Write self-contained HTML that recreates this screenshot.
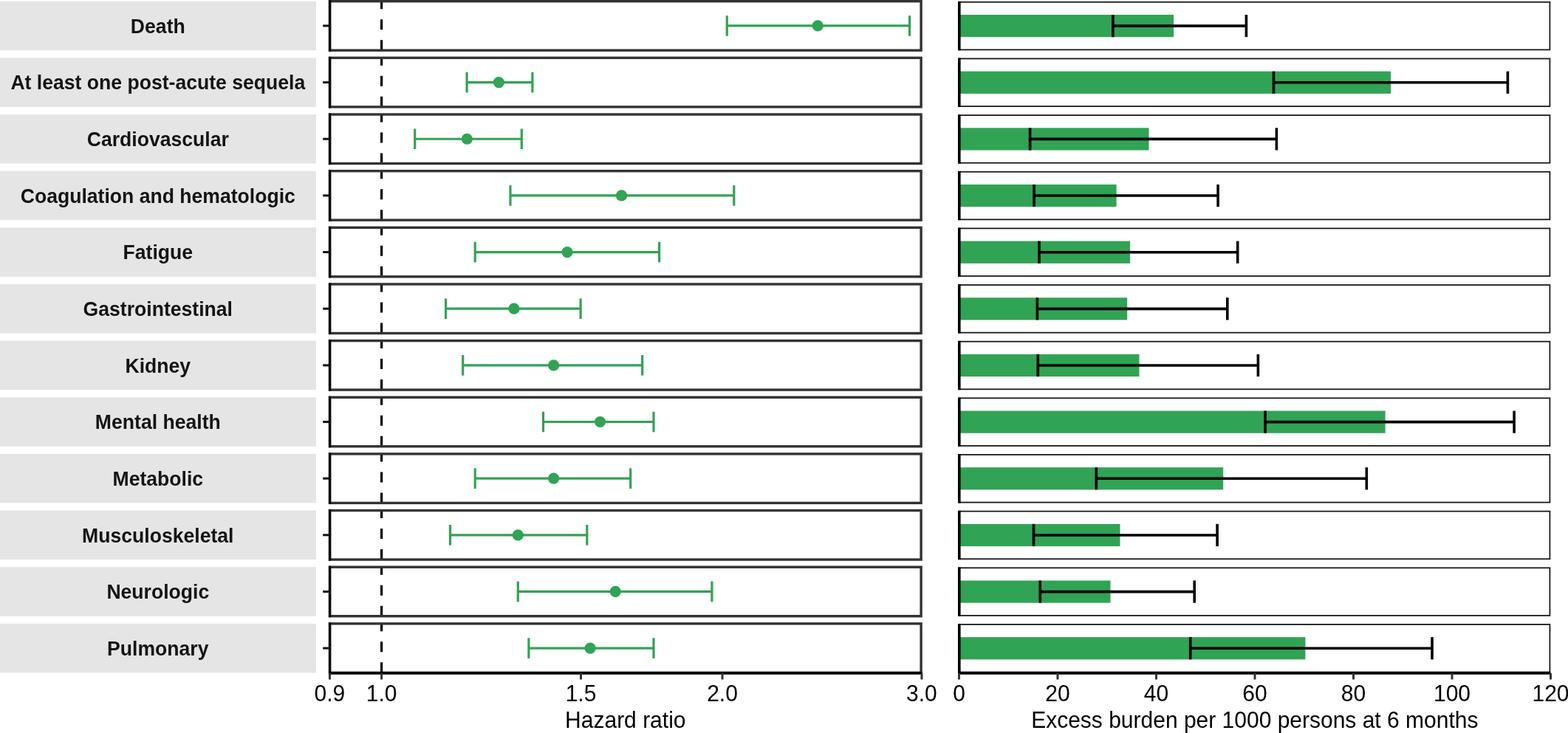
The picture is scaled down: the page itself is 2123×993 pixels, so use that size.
<!DOCTYPE html><html><head><meta charset="utf-8"><title>Hazard ratio and excess burden</title><style>html,body{margin:0;padding:0;background:#fff;}svg{display:block;}text{font-family:"Liberation Sans",Arial,sans-serif;}</style></head><body><svg width="2123" height="993" viewBox="0 0 2123 993"><rect x="0" y="0" width="2123" height="993" fill="#fff"/><rect x="0" y="1.70" width="428" height="66.50" fill="#e5e5e5"/><text transform="translate(213.8,44.75) scale(1,1.045)" text-anchor="middle" font-size="26.6" font-weight="bold" fill="#141414">Death</text><line x1="437.2" y1="34.95" x2="446" y2="34.95" stroke="#111" stroke-width="3"/><line x1="516.6" y1="68.20" x2="516.6" y2="1.70" stroke="#000" stroke-width="3.2" stroke-dasharray="14 14"/><g stroke="#31a354" stroke-width="3.2"><line x1="984.3" y1="34.95" x2="1231.6" y2="34.95"/><line x1="984.3" y1="21.15" x2="984.3" y2="48.75"/><line x1="1231.6" y1="21.15" x2="1231.6" y2="48.75"/></g><circle cx="1107.2" cy="34.95" r="7.6" fill="#31a354"/><rect x="446.5" y="1.70" width="800.6" height="66.50" fill="none" stroke="#333333" stroke-width="3.4"/><line x1="446.6" y1="0.20" x2="446.6" y2="69.70" stroke="#000" stroke-width="3.3"/><rect x="1300" y="20.00" width="289.10" height="30.2" fill="#31a354"/><g stroke="#000" stroke-width="3.6"><line x1="1506.9" y1="35.10" x2="1687.4" y2="35.10"/><line x1="1506.9" y1="20.00" x2="1506.9" y2="50.20"/><line x1="1687.4" y1="20.00" x2="1687.4" y2="50.20"/></g><rect x="1298.8" y="2.80" width="799.6" height="64.60" fill="none" stroke="#1a1a1a" stroke-width="1.8"/><line x1="1298.8" y1="1.90" x2="1298.8" y2="68.30" stroke="#000" stroke-width="3.6"/><rect x="0" y="78.35" width="428" height="66.50" fill="#e5e5e5"/><text transform="translate(213.8,121.40) scale(1,1.045)" text-anchor="middle" font-size="26.6" font-weight="bold" fill="#141414">At least one post-acute sequela</text><line x1="437.2" y1="111.60" x2="446" y2="111.60" stroke="#111" stroke-width="3"/><line x1="516.6" y1="144.85" x2="516.6" y2="78.35" stroke="#000" stroke-width="3.2" stroke-dasharray="14 14"/><g stroke="#31a354" stroke-width="3.2"><line x1="632.1" y1="111.60" x2="720.9" y2="111.60"/><line x1="632.1" y1="97.80" x2="632.1" y2="125.40"/><line x1="720.9" y1="97.80" x2="720.9" y2="125.40"/></g><circle cx="675.4" cy="111.60" r="7.6" fill="#31a354"/><rect x="446.5" y="78.35" width="800.6" height="66.50" fill="none" stroke="#333333" stroke-width="3.4"/><line x1="446.6" y1="76.85" x2="446.6" y2="146.35" stroke="#000" stroke-width="3.3"/><rect x="1300" y="96.65" width="583.10" height="30.2" fill="#31a354"/><g stroke="#000" stroke-width="3.6"><line x1="1724.5" y1="111.75" x2="2041.4" y2="111.75"/><line x1="1724.5" y1="96.65" x2="1724.5" y2="126.85"/><line x1="2041.4" y1="96.65" x2="2041.4" y2="126.85"/></g><rect x="1298.8" y="79.45" width="799.6" height="64.60" fill="none" stroke="#1a1a1a" stroke-width="1.8"/><line x1="1298.8" y1="78.55" x2="1298.8" y2="144.95" stroke="#000" stroke-width="3.6"/><rect x="0" y="155.00" width="428" height="66.50" fill="#e5e5e5"/><text transform="translate(213.8,198.05) scale(1,1.045)" text-anchor="middle" font-size="26.6" font-weight="bold" fill="#141414">Cardiovascular</text><line x1="437.2" y1="188.25" x2="446" y2="188.25" stroke="#111" stroke-width="3"/><line x1="516.6" y1="221.50" x2="516.6" y2="155.00" stroke="#000" stroke-width="3.2" stroke-dasharray="14 14"/><g stroke="#31a354" stroke-width="3.2"><line x1="561.7" y1="188.25" x2="706.3" y2="188.25"/><line x1="561.7" y1="174.45" x2="561.7" y2="202.05"/><line x1="706.3" y1="174.45" x2="706.3" y2="202.05"/></g><circle cx="632.3" cy="188.25" r="7.6" fill="#31a354"/><rect x="446.5" y="155.00" width="800.6" height="66.50" fill="none" stroke="#333333" stroke-width="3.4"/><line x1="446.6" y1="153.50" x2="446.6" y2="223.00" stroke="#000" stroke-width="3.3"/><rect x="1300" y="173.30" width="255.50" height="30.2" fill="#31a354"/><g stroke="#000" stroke-width="3.6"><line x1="1394.6" y1="188.40" x2="1728.4" y2="188.40"/><line x1="1394.6" y1="173.30" x2="1394.6" y2="203.50"/><line x1="1728.4" y1="173.30" x2="1728.4" y2="203.50"/></g><rect x="1298.8" y="156.10" width="799.6" height="64.60" fill="none" stroke="#1a1a1a" stroke-width="1.8"/><line x1="1298.8" y1="155.20" x2="1298.8" y2="221.60" stroke="#000" stroke-width="3.6"/><rect x="0" y="231.65" width="428" height="66.50" fill="#e5e5e5"/><text transform="translate(213.8,274.70) scale(1,1.045)" text-anchor="middle" font-size="26.6" font-weight="bold" fill="#141414">Coagulation and hematologic</text><line x1="437.2" y1="264.90" x2="446" y2="264.90" stroke="#111" stroke-width="3"/><line x1="516.6" y1="298.15" x2="516.6" y2="231.65" stroke="#000" stroke-width="3.2" stroke-dasharray="14 14"/><g stroke="#31a354" stroke-width="3.2"><line x1="691.0" y1="264.90" x2="993.8" y2="264.90"/><line x1="691.0" y1="251.10" x2="691.0" y2="278.70"/><line x1="993.8" y1="251.10" x2="993.8" y2="278.70"/></g><circle cx="841.5" cy="264.90" r="7.6" fill="#31a354"/><rect x="446.5" y="231.65" width="800.6" height="66.50" fill="none" stroke="#333333" stroke-width="3.4"/><line x1="446.6" y1="230.15" x2="446.6" y2="299.65" stroke="#000" stroke-width="3.3"/><rect x="1300" y="249.95" width="211.60" height="30.2" fill="#31a354"/><g stroke="#000" stroke-width="3.6"><line x1="1400.1" y1="265.05" x2="1649.1" y2="265.05"/><line x1="1400.1" y1="249.95" x2="1400.1" y2="280.15"/><line x1="1649.1" y1="249.95" x2="1649.1" y2="280.15"/></g><rect x="1298.8" y="232.75" width="799.6" height="64.60" fill="none" stroke="#1a1a1a" stroke-width="1.8"/><line x1="1298.8" y1="231.85" x2="1298.8" y2="298.25" stroke="#000" stroke-width="3.6"/><rect x="0" y="308.30" width="428" height="66.50" fill="#e5e5e5"/><text transform="translate(213.8,351.35) scale(1,1.045)" text-anchor="middle" font-size="26.6" font-weight="bold" fill="#141414">Fatigue</text><line x1="437.2" y1="341.55" x2="446" y2="341.55" stroke="#111" stroke-width="3"/><line x1="516.6" y1="374.80" x2="516.6" y2="308.30" stroke="#000" stroke-width="3.2" stroke-dasharray="14 14"/><g stroke="#31a354" stroke-width="3.2"><line x1="643.2" y1="341.55" x2="892.6" y2="341.55"/><line x1="643.2" y1="327.75" x2="643.2" y2="355.35"/><line x1="892.6" y1="327.75" x2="892.6" y2="355.35"/></g><circle cx="768.0" cy="341.55" r="7.6" fill="#31a354"/><rect x="446.5" y="308.30" width="800.6" height="66.50" fill="none" stroke="#333333" stroke-width="3.4"/><line x1="446.6" y1="306.80" x2="446.6" y2="376.30" stroke="#000" stroke-width="3.3"/><rect x="1300" y="326.60" width="230.10" height="30.2" fill="#31a354"/><g stroke="#000" stroke-width="3.6"><line x1="1407.0" y1="341.70" x2="1675.7" y2="341.70"/><line x1="1407.0" y1="326.60" x2="1407.0" y2="356.80"/><line x1="1675.7" y1="326.60" x2="1675.7" y2="356.80"/></g><rect x="1298.8" y="309.40" width="799.6" height="64.60" fill="none" stroke="#1a1a1a" stroke-width="1.8"/><line x1="1298.8" y1="308.50" x2="1298.8" y2="374.90" stroke="#000" stroke-width="3.6"/><rect x="0" y="384.95" width="428" height="66.50" fill="#e5e5e5"/><text transform="translate(213.8,428.00) scale(1,1.045)" text-anchor="middle" font-size="26.6" font-weight="bold" fill="#141414">Gastrointestinal</text><line x1="437.2" y1="418.20" x2="446" y2="418.20" stroke="#111" stroke-width="3"/><line x1="516.6" y1="451.45" x2="516.6" y2="384.95" stroke="#000" stroke-width="3.2" stroke-dasharray="14 14"/><g stroke="#31a354" stroke-width="3.2"><line x1="603.6" y1="418.20" x2="786.1" y2="418.20"/><line x1="603.6" y1="404.40" x2="603.6" y2="432.00"/><line x1="786.1" y1="404.40" x2="786.1" y2="432.00"/></g><circle cx="695.9" cy="418.20" r="7.6" fill="#31a354"/><rect x="446.5" y="384.95" width="800.6" height="66.50" fill="none" stroke="#333333" stroke-width="3.4"/><line x1="446.6" y1="383.45" x2="446.6" y2="452.95" stroke="#000" stroke-width="3.3"/><rect x="1300" y="403.25" width="226.20" height="30.2" fill="#31a354"/><g stroke="#000" stroke-width="3.6"><line x1="1404.4" y1="418.35" x2="1661.8" y2="418.35"/><line x1="1404.4" y1="403.25" x2="1404.4" y2="433.45"/><line x1="1661.8" y1="403.25" x2="1661.8" y2="433.45"/></g><rect x="1298.8" y="386.05" width="799.6" height="64.60" fill="none" stroke="#1a1a1a" stroke-width="1.8"/><line x1="1298.8" y1="385.15" x2="1298.8" y2="451.55" stroke="#000" stroke-width="3.6"/><rect x="0" y="461.60" width="428" height="66.50" fill="#e5e5e5"/><text transform="translate(213.8,504.65) scale(1,1.045)" text-anchor="middle" font-size="26.6" font-weight="bold" fill="#141414">Kidney</text><line x1="437.2" y1="494.85" x2="446" y2="494.85" stroke="#111" stroke-width="3"/><line x1="516.6" y1="528.10" x2="516.6" y2="461.60" stroke="#000" stroke-width="3.2" stroke-dasharray="14 14"/><g stroke="#31a354" stroke-width="3.2"><line x1="626.7" y1="494.85" x2="869.7" y2="494.85"/><line x1="626.7" y1="481.05" x2="626.7" y2="508.65"/><line x1="869.7" y1="481.05" x2="869.7" y2="508.65"/></g><circle cx="749.6" cy="494.85" r="7.6" fill="#31a354"/><rect x="446.5" y="461.60" width="800.6" height="66.50" fill="none" stroke="#333333" stroke-width="3.4"/><line x1="446.6" y1="460.10" x2="446.6" y2="529.60" stroke="#000" stroke-width="3.3"/><rect x="1300" y="479.90" width="242.50" height="30.2" fill="#31a354"/><g stroke="#000" stroke-width="3.6"><line x1="1405.3" y1="495.00" x2="1703.4" y2="495.00"/><line x1="1405.3" y1="479.90" x2="1405.3" y2="510.10"/><line x1="1703.4" y1="479.90" x2="1703.4" y2="510.10"/></g><rect x="1298.8" y="462.70" width="799.6" height="64.60" fill="none" stroke="#1a1a1a" stroke-width="1.8"/><line x1="1298.8" y1="461.80" x2="1298.8" y2="528.20" stroke="#000" stroke-width="3.6"/><rect x="0" y="538.25" width="428" height="66.50" fill="#e5e5e5"/><text transform="translate(213.8,581.30) scale(1,1.045)" text-anchor="middle" font-size="26.6" font-weight="bold" fill="#141414">Mental health</text><line x1="437.2" y1="571.50" x2="446" y2="571.50" stroke="#111" stroke-width="3"/><line x1="516.6" y1="604.75" x2="516.6" y2="538.25" stroke="#000" stroke-width="3.2" stroke-dasharray="14 14"/><g stroke="#31a354" stroke-width="3.2"><line x1="735.5" y1="571.50" x2="885.0" y2="571.50"/><line x1="735.5" y1="557.70" x2="735.5" y2="585.30"/><line x1="885.0" y1="557.70" x2="885.0" y2="585.30"/></g><circle cx="812.5" cy="571.50" r="7.6" fill="#31a354"/><rect x="446.5" y="538.25" width="800.6" height="66.50" fill="none" stroke="#333333" stroke-width="3.4"/><line x1="446.6" y1="536.75" x2="446.6" y2="606.25" stroke="#000" stroke-width="3.3"/><rect x="1300" y="556.55" width="575.60" height="30.2" fill="#31a354"/><g stroke="#000" stroke-width="3.6"><line x1="1713.1" y1="571.65" x2="2050.1" y2="571.65"/><line x1="1713.1" y1="556.55" x2="1713.1" y2="586.75"/><line x1="2050.1" y1="556.55" x2="2050.1" y2="586.75"/></g><rect x="1298.8" y="539.35" width="799.6" height="64.60" fill="none" stroke="#1a1a1a" stroke-width="1.8"/><line x1="1298.8" y1="538.45" x2="1298.8" y2="604.85" stroke="#000" stroke-width="3.6"/><rect x="0" y="614.90" width="428" height="66.50" fill="#e5e5e5"/><text transform="translate(213.8,657.95) scale(1,1.045)" text-anchor="middle" font-size="26.6" font-weight="bold" fill="#141414">Metabolic</text><line x1="437.2" y1="648.15" x2="446" y2="648.15" stroke="#111" stroke-width="3"/><line x1="516.6" y1="681.40" x2="516.6" y2="614.90" stroke="#000" stroke-width="3.2" stroke-dasharray="14 14"/><g stroke="#31a354" stroke-width="3.2"><line x1="643.2" y1="648.15" x2="853.7" y2="648.15"/><line x1="643.2" y1="634.35" x2="643.2" y2="661.95"/><line x1="853.7" y1="634.35" x2="853.7" y2="661.95"/></g><circle cx="749.6" cy="648.15" r="7.6" fill="#31a354"/><rect x="446.5" y="614.90" width="800.6" height="66.50" fill="none" stroke="#333333" stroke-width="3.4"/><line x1="446.6" y1="613.40" x2="446.6" y2="682.90" stroke="#000" stroke-width="3.3"/><rect x="1300" y="633.20" width="356.20" height="30.2" fill="#31a354"/><g stroke="#000" stroke-width="3.6"><line x1="1484.3" y1="648.30" x2="1850.3" y2="648.30"/><line x1="1484.3" y1="633.20" x2="1484.3" y2="663.40"/><line x1="1850.3" y1="633.20" x2="1850.3" y2="663.40"/></g><rect x="1298.8" y="616.00" width="799.6" height="64.60" fill="none" stroke="#1a1a1a" stroke-width="1.8"/><line x1="1298.8" y1="615.10" x2="1298.8" y2="681.50" stroke="#000" stroke-width="3.6"/><rect x="0" y="691.55" width="428" height="66.50" fill="#e5e5e5"/><text transform="translate(213.8,734.60) scale(1,1.045)" text-anchor="middle" font-size="26.6" font-weight="bold" fill="#141414">Musculoskeletal</text><line x1="437.2" y1="724.80" x2="446" y2="724.80" stroke="#111" stroke-width="3"/><line x1="516.6" y1="758.05" x2="516.6" y2="691.55" stroke="#000" stroke-width="3.2" stroke-dasharray="14 14"/><g stroke="#31a354" stroke-width="3.2"><line x1="609.5" y1="724.80" x2="794.8" y2="724.80"/><line x1="609.5" y1="711.00" x2="609.5" y2="738.60"/><line x1="794.8" y1="711.00" x2="794.8" y2="738.60"/></g><circle cx="701.3" cy="724.80" r="7.6" fill="#31a354"/><rect x="446.5" y="691.55" width="800.6" height="66.50" fill="none" stroke="#333333" stroke-width="3.4"/><line x1="446.6" y1="690.05" x2="446.6" y2="759.55" stroke="#000" stroke-width="3.3"/><rect x="1300" y="709.85" width="216.50" height="30.2" fill="#31a354"/><g stroke="#000" stroke-width="3.6"><line x1="1399.5" y1="724.95" x2="1648.1" y2="724.95"/><line x1="1399.5" y1="709.85" x2="1399.5" y2="740.05"/><line x1="1648.1" y1="709.85" x2="1648.1" y2="740.05"/></g><rect x="1298.8" y="692.65" width="799.6" height="64.60" fill="none" stroke="#1a1a1a" stroke-width="1.8"/><line x1="1298.8" y1="691.75" x2="1298.8" y2="758.15" stroke="#000" stroke-width="3.6"/><rect x="0" y="768.20" width="428" height="66.50" fill="#e5e5e5"/><text transform="translate(213.8,811.25) scale(1,1.045)" text-anchor="middle" font-size="26.6" font-weight="bold" fill="#141414">Neurologic</text><line x1="437.2" y1="801.45" x2="446" y2="801.45" stroke="#111" stroke-width="3"/><line x1="516.6" y1="834.70" x2="516.6" y2="768.20" stroke="#000" stroke-width="3.2" stroke-dasharray="14 14"/><g stroke="#31a354" stroke-width="3.2"><line x1="701.3" y1="801.45" x2="963.9" y2="801.45"/><line x1="701.3" y1="787.65" x2="701.3" y2="815.25"/><line x1="963.9" y1="787.65" x2="963.9" y2="815.25"/></g><circle cx="833.2" cy="801.45" r="7.6" fill="#31a354"/><rect x="446.5" y="768.20" width="800.6" height="66.50" fill="none" stroke="#333333" stroke-width="3.4"/><line x1="446.6" y1="766.70" x2="446.6" y2="836.20" stroke="#000" stroke-width="3.3"/><rect x="1300" y="786.50" width="203.50" height="30.2" fill="#31a354"/><g stroke="#000" stroke-width="3.6"><line x1="1408.3" y1="801.60" x2="1617.2" y2="801.60"/><line x1="1408.3" y1="786.50" x2="1408.3" y2="816.70"/><line x1="1617.2" y1="786.50" x2="1617.2" y2="816.70"/></g><rect x="1298.8" y="769.30" width="799.6" height="64.60" fill="none" stroke="#1a1a1a" stroke-width="1.8"/><line x1="1298.8" y1="768.40" x2="1298.8" y2="834.80" stroke="#000" stroke-width="3.6"/><rect x="0" y="844.85" width="428" height="66.50" fill="#e5e5e5"/><text transform="translate(213.8,887.90) scale(1,1.045)" text-anchor="middle" font-size="26.6" font-weight="bold" fill="#141414">Pulmonary</text><line x1="437.2" y1="878.10" x2="446" y2="878.10" stroke="#111" stroke-width="3"/><line x1="516.6" y1="911.35" x2="516.6" y2="844.85" stroke="#000" stroke-width="3.2" stroke-dasharray="14 14"/><g stroke="#31a354" stroke-width="3.2"><line x1="715.9" y1="878.10" x2="885.0" y2="878.10"/><line x1="715.9" y1="864.30" x2="715.9" y2="891.90"/><line x1="885.0" y1="864.30" x2="885.0" y2="891.90"/></g><circle cx="799.1" cy="878.10" r="7.6" fill="#31a354"/><rect x="446.5" y="844.85" width="800.6" height="66.50" fill="none" stroke="#333333" stroke-width="3.4"/><line x1="446.6" y1="843.35" x2="446.6" y2="912.85" stroke="#000" stroke-width="3.3"/><rect x="1300" y="863.15" width="467.40" height="30.2" fill="#31a354"/><g stroke="#000" stroke-width="3.6"><line x1="1611.7" y1="878.25" x2="1939.0" y2="878.25"/><line x1="1611.7" y1="863.15" x2="1611.7" y2="893.35"/><line x1="1939.0" y1="863.15" x2="1939.0" y2="893.35"/></g><rect x="1298.8" y="845.95" width="799.6" height="64.60" fill="none" stroke="#1a1a1a" stroke-width="1.8"/><line x1="1298.8" y1="845.05" x2="1298.8" y2="911.45" stroke="#000" stroke-width="3.6"/><line x1="445" y1="912" x2="1248.6" y2="912" stroke="#000" stroke-width="3.4"/><line x1="446.46" y1="912" x2="446.46" y2="920.5" stroke="#333333" stroke-width="3"/><text transform="translate(446.46,950) scale(1,1.06)" text-anchor="middle" font-size="30" fill="#000">0.9</text><line x1="516.60" y1="912" x2="516.60" y2="920.5" stroke="#333333" stroke-width="3"/><text transform="translate(516.60,950) scale(1,1.06)" text-anchor="middle" font-size="30" fill="#000">1.0</text><line x1="786.52" y1="912" x2="786.52" y2="920.5" stroke="#333333" stroke-width="3"/><text transform="translate(786.52,950) scale(1,1.06)" text-anchor="middle" font-size="30" fill="#000">1.5</text><line x1="978.03" y1="912" x2="978.03" y2="920.5" stroke="#333333" stroke-width="3"/><text transform="translate(978.03,950) scale(1,1.06)" text-anchor="middle" font-size="30" fill="#000">2.0</text><line x1="1247.95" y1="912" x2="1247.95" y2="920.5" stroke="#333333" stroke-width="3"/><text transform="translate(1247.95,950) scale(1,1.06)" text-anchor="middle" font-size="30" fill="#000">3.0</text><line x1="1297" y1="912" x2="2099.5" y2="912" stroke="#000" stroke-width="3.4"/><line x1="1298.50" y1="912" x2="1298.50" y2="920.5" stroke="#333333" stroke-width="3"/><text transform="translate(1298.50,950) scale(1,1.06)" text-anchor="middle" font-size="30" fill="#000">0</text><line x1="1432.00" y1="912" x2="1432.00" y2="920.5" stroke="#333333" stroke-width="3"/><text transform="translate(1432.00,950) scale(1,1.06)" text-anchor="middle" font-size="30" fill="#000">20</text><line x1="1565.50" y1="912" x2="1565.50" y2="920.5" stroke="#333333" stroke-width="3"/><text transform="translate(1565.50,950) scale(1,1.06)" text-anchor="middle" font-size="30" fill="#000">40</text><line x1="1699.00" y1="912" x2="1699.00" y2="920.5" stroke="#333333" stroke-width="3"/><text transform="translate(1699.00,950) scale(1,1.06)" text-anchor="middle" font-size="30" fill="#000">60</text><line x1="1832.50" y1="912" x2="1832.50" y2="920.5" stroke="#333333" stroke-width="3"/><text transform="translate(1832.50,950) scale(1,1.06)" text-anchor="middle" font-size="30" fill="#000">80</text><line x1="1966.00" y1="912" x2="1966.00" y2="920.5" stroke="#333333" stroke-width="3"/><text transform="translate(1966.00,950) scale(1,1.06)" text-anchor="middle" font-size="30" fill="#000">100</text><line x1="2099.50" y1="912" x2="2099.50" y2="920.5" stroke="#333333" stroke-width="3"/><text transform="translate(2099.50,950) scale(1,1.06)" text-anchor="middle" font-size="30" fill="#000">120</text><text transform="translate(846.8,986.3) scale(1,1.06)" text-anchor="middle" font-size="30" fill="#000">Hazard ratio</text><text transform="translate(1698.8,986.3) scale(1,1.06)" text-anchor="middle" font-size="30" fill="#000">Excess burden per 1000 persons at 6 months</text></svg></body></html>
